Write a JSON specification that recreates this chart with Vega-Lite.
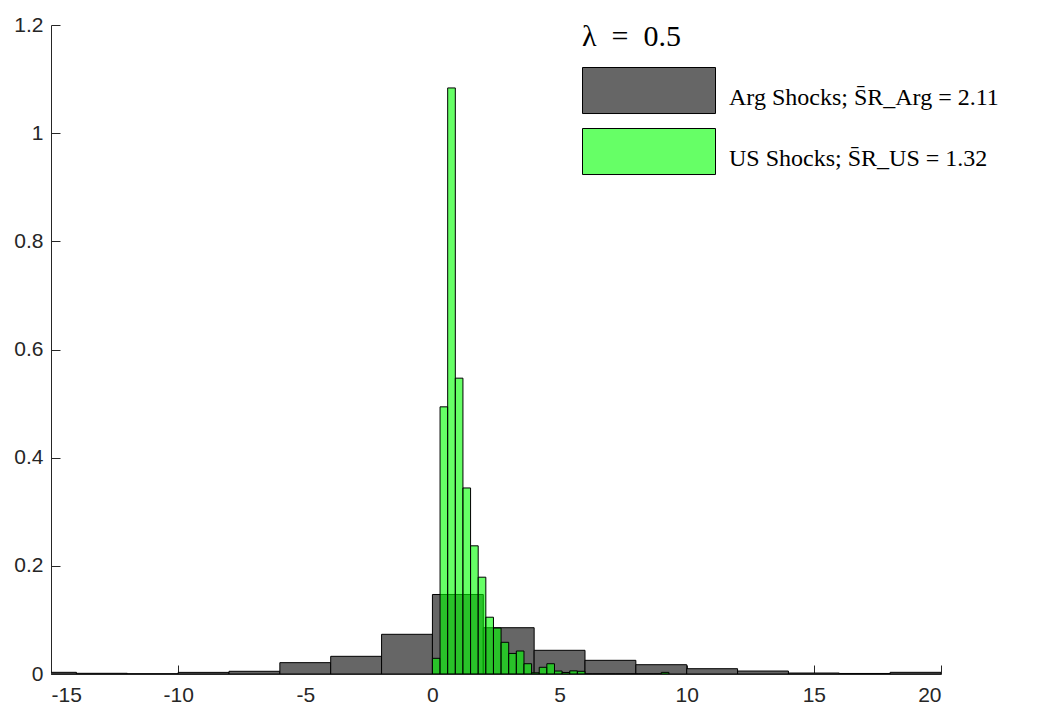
{
  "$schema": "https://vega.github.io/schema/vega-lite/v6.json",
  "width": 890,
  "height": 649,
  "autosize": {"type": "none"},
  "padding": {"left": 51, "top": 25, "right": 96, "bottom": 35},
  "background": "white",
  "config": {
    "view": {"stroke": null},
    "font": "Liberation Sans",
    "axis": {
      "grid": false,
      "domainColor": "#262626",
      "domainWidth": 1,
      "tickColor": "#262626",
      "tickWidth": 1,
      "tickSize": -9,
      "labelColor": "#262626",
      "labelFont": "Liberation Sans",
      "labelFontSize": 21,
      "title": null,
      "zindex": 1
    }
  },
  "data": {
    "values": [
      {"series": "Arg", "lo": -16, "hi": -14, "density": 0.0031},
      {"series": "Arg", "lo": -14, "hi": -12, "density": 0.0013},
      {"series": "Arg", "lo": -12, "hi": -10, "density": 0.0005},
      {"series": "Arg", "lo": -10, "hi": -8, "density": 0.003},
      {"series": "Arg", "lo": -8, "hi": -6, "density": 0.005},
      {"series": "Arg", "lo": -6, "hi": -4, "density": 0.021},
      {"series": "Arg", "lo": -4, "hi": -2, "density": 0.0327},
      {"series": "Arg", "lo": -2, "hi": 0, "density": 0.0734},
      {"series": "Arg", "lo": 0, "hi": 2, "density": 0.147},
      {"series": "Arg", "lo": 2, "hi": 4, "density": 0.0856},
      {"series": "Arg", "lo": 4, "hi": 6, "density": 0.0438},
      {"series": "Arg", "lo": 6, "hi": 8, "density": 0.0253},
      {"series": "Arg", "lo": 8, "hi": 10, "density": 0.0172},
      {"series": "Arg", "lo": 10, "hi": 12, "density": 0.0098},
      {"series": "Arg", "lo": 12, "hi": 14, "density": 0.0055},
      {"series": "Arg", "lo": 14, "hi": 16, "density": 0.0018},
      {"series": "Arg", "lo": 16, "hi": 18, "density": 0.001},
      {"series": "Arg", "lo": 18, "hi": 20, "density": 0.0031},
      {"series": "US", "lo": 0.0, "hi": 0.3, "density": 0.029},
      {"series": "US", "lo": 0.3, "hi": 0.6, "density": 0.494},
      {"series": "US", "lo": 0.6, "hi": 0.9, "density": 1.0836},
      {"series": "US", "lo": 0.9, "hi": 1.2, "density": 0.547},
      {"series": "US", "lo": 1.2, "hi": 1.5, "density": 0.344},
      {"series": "US", "lo": 1.5, "hi": 1.8, "density": 0.237},
      {"series": "US", "lo": 1.8, "hi": 2.1, "density": 0.179},
      {"series": "US", "lo": 2.1, "hi": 2.4, "density": 0.105},
      {"series": "US", "lo": 2.4, "hi": 2.7, "density": 0.085},
      {"series": "US", "lo": 2.7, "hi": 3.0, "density": 0.0586},
      {"series": "US", "lo": 3.0, "hi": 3.3, "density": 0.038},
      {"series": "US", "lo": 3.3, "hi": 3.6, "density": 0.0425},
      {"series": "US", "lo": 3.6, "hi": 3.9, "density": 0.019},
      {"series": "US", "lo": 3.9, "hi": 4.2, "density": 0.0022},
      {"series": "US", "lo": 4.2, "hi": 4.5, "density": 0.0124},
      {"series": "US", "lo": 4.5, "hi": 4.8, "density": 0.019},
      {"series": "US", "lo": 4.8, "hi": 5.1, "density": 0.0055},
      {"series": "US", "lo": 5.1, "hi": 5.4, "density": 0.0028},
      {"series": "US", "lo": 5.4, "hi": 5.7, "density": 0.0058},
      {"series": "US", "lo": 5.7, "hi": 6.0, "density": 0.005},
      {"series": "US", "lo": 6.0, "hi": 6.3, "density": 0},
      {"series": "US", "lo": 6.3, "hi": 6.6, "density": 0},
      {"series": "US", "lo": 6.6, "hi": 6.9, "density": 0},
      {"series": "US", "lo": 6.9, "hi": 7.2, "density": 0},
      {"series": "US", "lo": 7.2, "hi": 7.5, "density": 0},
      {"series": "US", "lo": 7.5, "hi": 7.8, "density": 0},
      {"series": "US", "lo": 7.8, "hi": 8.1, "density": 0},
      {"series": "US", "lo": 8.1, "hi": 8.4, "density": 0},
      {"series": "US", "lo": 8.4, "hi": 8.7, "density": 0},
      {"series": "US", "lo": 8.7, "hi": 9.0, "density": 0},
      {"series": "US", "lo": 9.0, "hi": 9.3, "density": 0.003}
    ]
  },
  "mark": {"type": "bar", "stroke": "black", "strokeWidth": 1, "clip": true},
  "encoding": {
    "x": {
      "field": "lo",
      "type": "quantitative",
      "scale": {"domain": [-15, 20], "nice": false, "zero": false},
      "axis": {"values": [-15, -10, -5, 0, 5, 10, 15, 20], "labelExpr": "toString(datum.value)", "labelPadding": 19}
    },
    "x2": {"field": "hi"},
    "y": {
      "field": "density",
      "type": "quantitative",
      "stack": null,
      "scale": {"domain": [0, 1.2], "nice": false},
      "axis": {"values": [0, 0.2, 0.4, 0.6, 0.8, 1, 1.2], "labelExpr": "toString(datum.value)", "labelPadding": 17}
    },
    "y2": {"datum": 0},
    "color": {
      "field": "series",
      "type": "nominal",
      "scale": {"domain": ["Arg", "US"], "range": ["#666666", "rgba(0,255,0,0.6)"]},
      "legend": {
        "orient": "none",
        "legendX": 531,
        "legendY": -3,
        "title": "λ\u2002=\u20020.5",
        "titleFont": "Liberation Serif",
        "titleFontSize": 30,
        "titleFontWeight": "normal",
        "titleColor": "black",
        "titleBaseline": "top",
        "titlePadding": 15,
        "padding": 0,
        "direction": "vertical",
        "columns": 1,
        "symbolType": "M-1,-0.451L1,-0.451L1,0.241L-1,0.241Z",
        "symbolSize": 17689,
        "symbolStrokeColor": "black",
        "symbolStrokeWidth": 1,
        "clipHeight": 61,
        "rowPadding": 0,
        "labelOffset": 13,
        "labelFont": "Liberation Serif",
        "labelFontSize": 24,
        "labelColor": "black",
        "labelLimit": 0,
        "labelExpr": "datum.label == 'Arg' ? 'Arg Shocks; S\u0304R_Arg = 2.11' : 'US Shocks; S\u0304R_US = 1.32'"
      }
    }
  }
}
